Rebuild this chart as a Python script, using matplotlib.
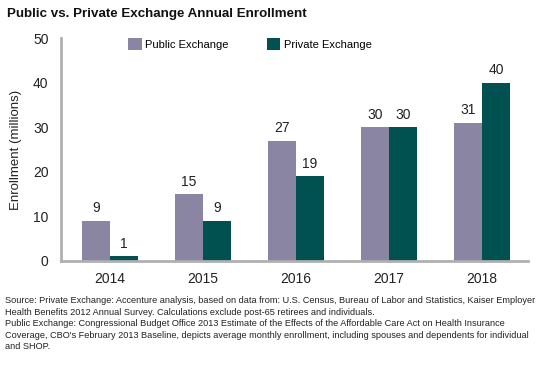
import matplotlib
matplotlib.use("Agg")
import matplotlib.pyplot as plt
import numpy as np

years = ["2014", "2015", "2016", "2017", "2018"]
public = [9, 15, 27, 30, 31]
private = [1, 9, 19, 30, 40]
yticks = [0, 10, 20, 30, 40, 50]

c_pub = "#8985a2"
c_priv = "#00514f"

plt.rcParams['font.family'] = ['Liberation Sans', 'DejaVu Sans']

fig = plt.figure(figsize=(5.45, 3.69), dpi=100)
ax = fig.add_axes([0.112, 0.293, 0.857, 0.604])

x = np.arange(len(years))
w = 0.30
ax.bar(x - w/2, public, w, color=c_pub, label="Public Exchange")
ax.bar(x + w/2, private, w, color=c_priv, label="Private Exchange")

for xi, v in zip(x, public):
    ax.text(xi - w/2, v + 1.2, str(v), ha="center", va="bottom", fontsize=10, color="#222222")
for xi, v in zip(x, private):
    ax.text(xi + w/2, v + 1.2, str(v), ha="center", va="bottom", fontsize=10, color="#222222")

ax.set_xlim(-0.527, 4.495)
ax.set_ylim(0, 50)
ax.set_yticks(yticks)
ax.set_xticks(x)
ax.set_xticklabels(years)
ax.tick_params(axis="both", length=0, labelsize=10, colors="#222222", pad=8)
ax.tick_params(axis="y", pad=9)
for s in ["top", "right"]:
    ax.spines[s].set_visible(False)
for s in ["left", "bottom"]:
    ax.spines[s].set_color("#b0b0b0")
    ax.spines[s].set_linewidth(2)
ax.set_ylabel("Enrollment (millions)", fontsize=9.5, color="#222222", labelpad=8)

leg = ax.legend(loc="upper left", bbox_to_anchor=(0.122, 1.045), ncol=2, frameon=False,
                fontsize=8, handlelength=1.25, handleheight=1.25, columnspacing=3.4, handletextpad=0.3)

fig.text(0.013, 0.963, "Public vs. Private Exchange Annual Enrollment", fontsize=9.6,
         fontweight="bold", color="#111111", va="center")

foot1 = ("Source: Private Exchange: Accenture analysis, based on data from: U.S. Census, Bureau of Labor and Statistics, Kaiser Employer\n"
         "Health Benefits 2012 Annual Survey. Calculations exclude post-65 retirees and individuals.")
foot2 = ("Public Exchange: Congressional Budget Office 2013 Estimate of the Effects of the Affordable Care Act on Health Insurance\n"
         "Coverage, CBO's February 2013 Baseline, depicts average monthly enrollment, including spouses and dependents for individual\n"
         "and SHOP.")
fig.text(0.009, 0.197, foot1, fontsize=6.6, color="#222222", va="top", linespacing=1.4)
fig.text(0.009, 0.136, foot2, fontsize=6.6, color="#222222", va="top", linespacing=1.4)

fig.savefig("out.png", dpi=100)
